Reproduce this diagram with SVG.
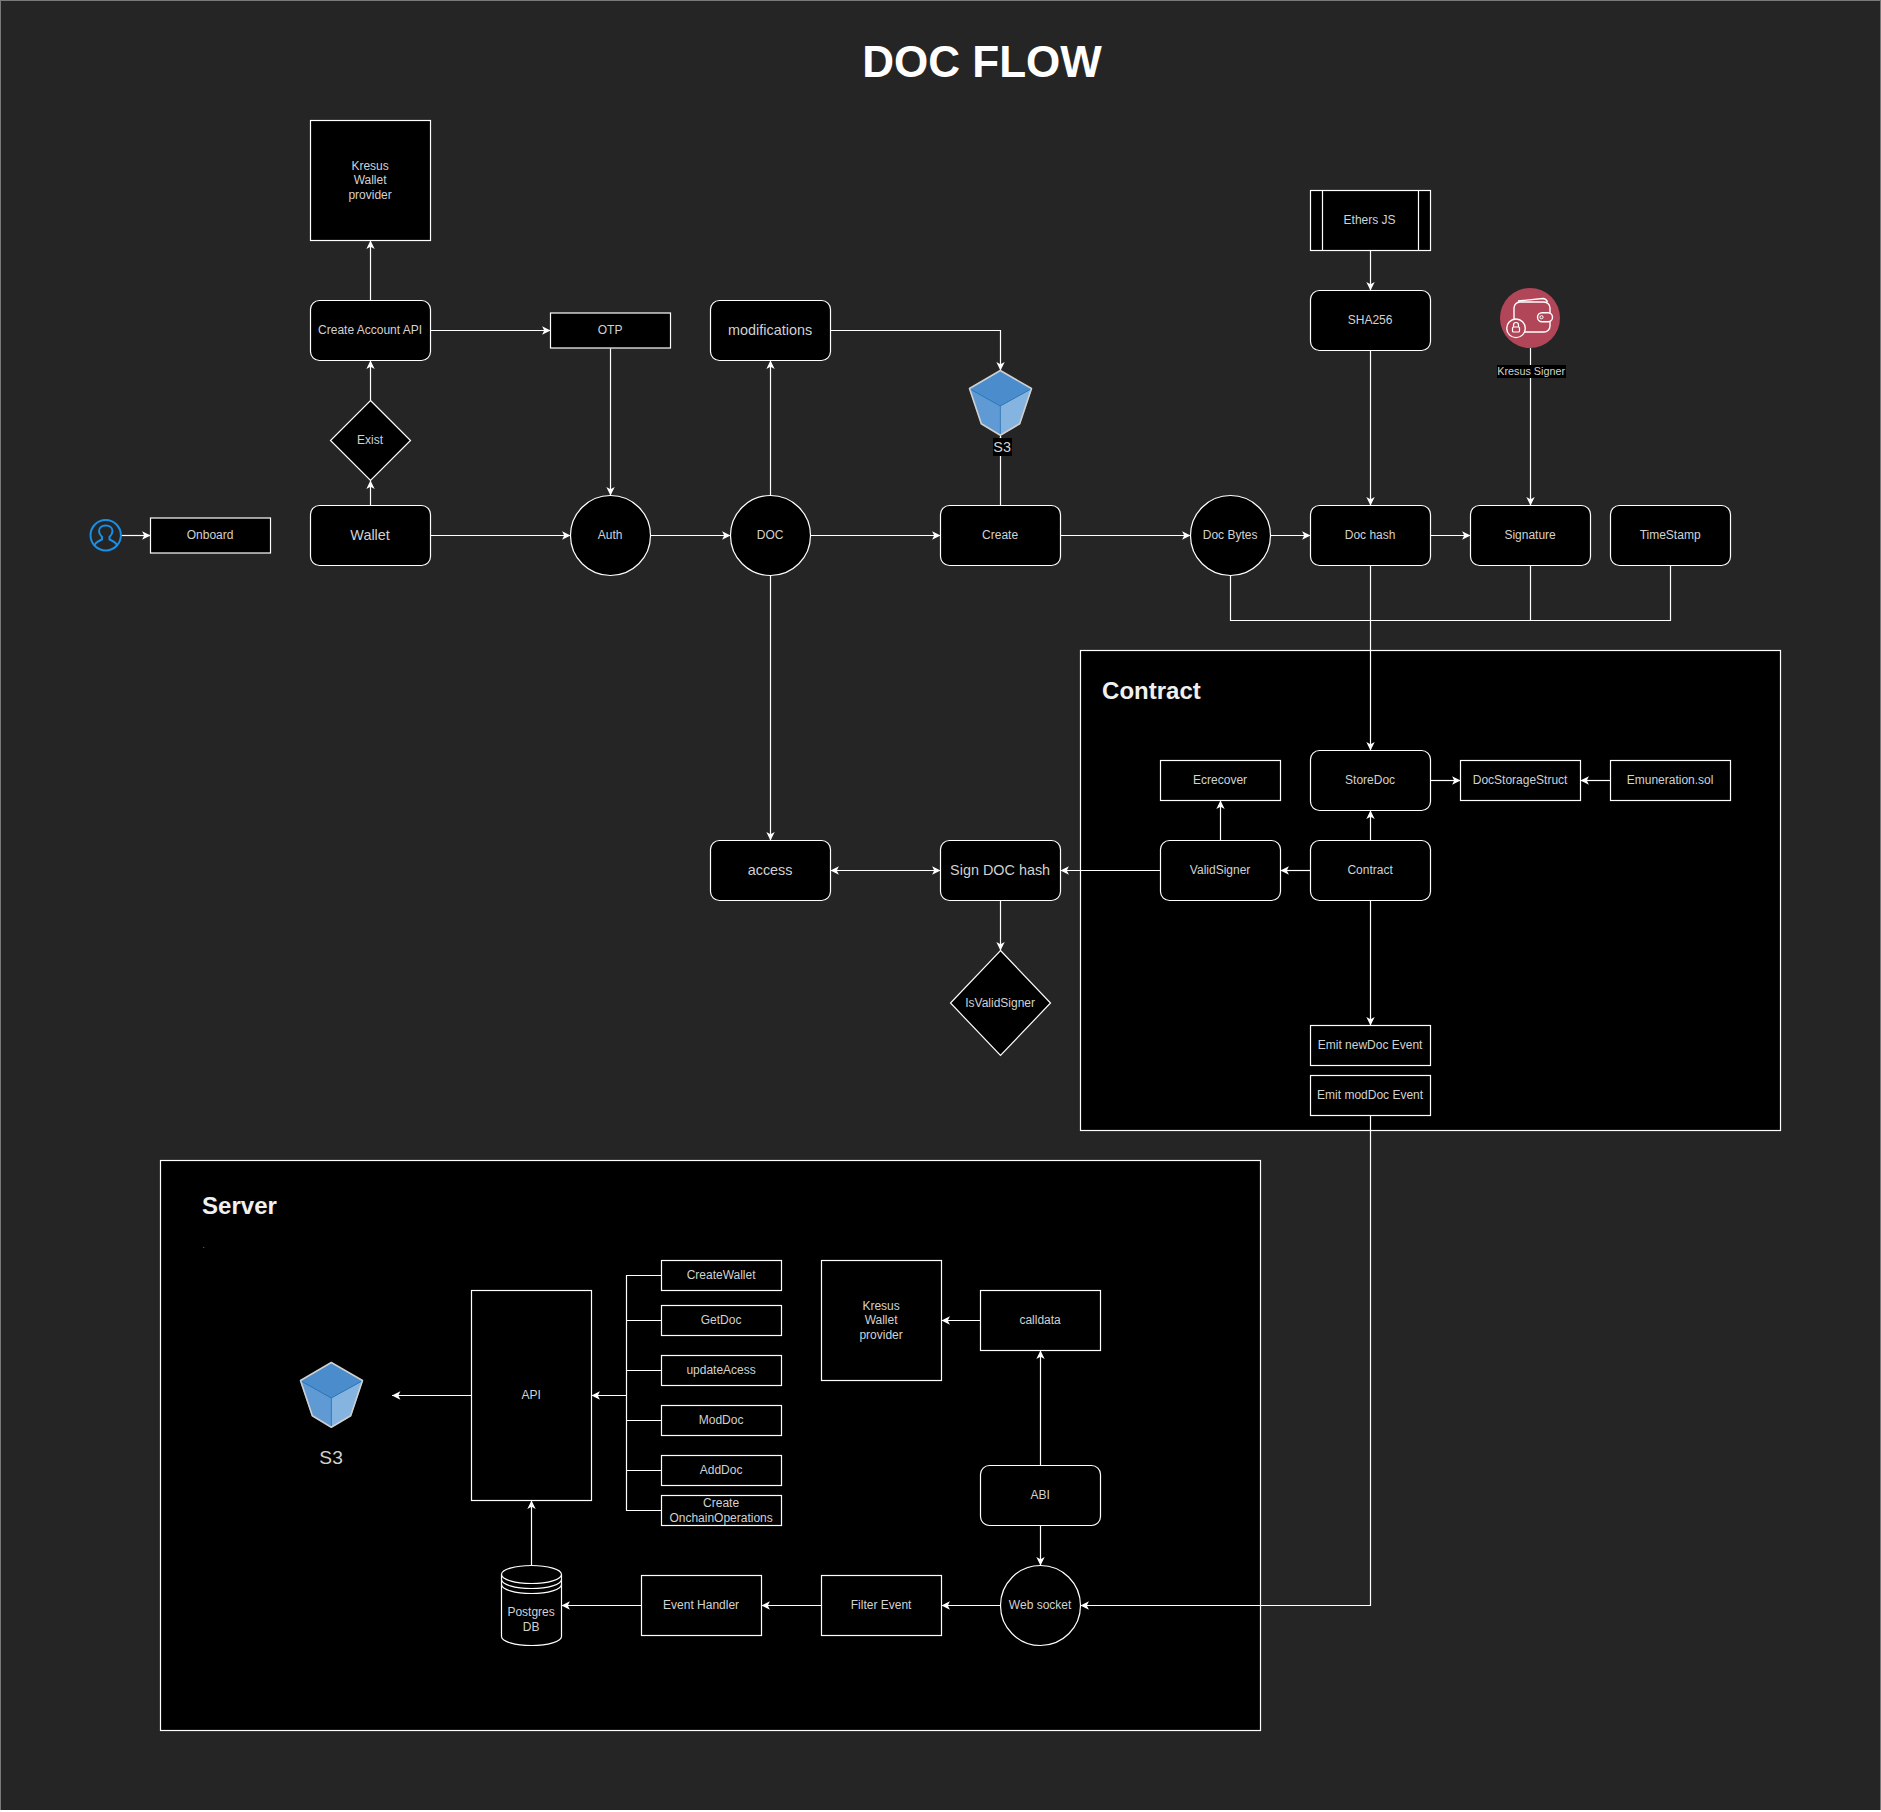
<svg xmlns="http://www.w3.org/2000/svg" xmlns:xlink="http://www.w3.org/1999/xlink" width="1881" height="1812" viewBox="0 0 1881 1812">
<style>
.n{fill:#000;stroke:#fff;stroke-width:1.2}
text{font-family:"Liberation Sans",Arial,Helvetica,sans-serif;font-size:12px;fill:#d2d2d2;text-anchor:middle;transform:translateX(-0.4px)}
.l{font-size:14.4px}
.b{font-weight:bold;font-size:24px;fill:#f0f0f0;text-anchor:start}
.c{fill:none;stroke:#fff;stroke-width:1.2}
.a{marker-end:url(#arr)}
</style>
<defs>
<marker id="arr" markerUnits="userSpaceOnUse" markerWidth="10" markerHeight="10" viewBox="0 0 10 10" refX="9" refY="5" orient="auto-start-reverse"><path d="M0.6,0.8 L9,5 L0.6,9.2 L2.7,5 Z" fill="#fff"/></marker>
<g id="cube">
<path d="M969,388.5 L1000.3,406 L1000.3,435.5 L981,424 Z" fill="#5f9ad4"/>
<path d="M1032,388.5 L1000.3,406 L1000.3,435.5 L1020,424 Z" fill="#85b4e0"/>
<path d="M969,388.5 L1000.3,370.5 L1032,388.5 L1000.3,406 Z" fill="#4a8ccc"/>
<path d="M969,388.5 L1000.3,406 L1032,388.5 M1000.3,406 V435.5" fill="none" stroke="#2a7cc0" stroke-width="0.8"/>
<path d="M1000.3,370.5 L1031.5,388.5 L1019.7,423.7 L1000.3,435.2 L981.3,423.7 L969.5,388.5 Z" fill="none" stroke="#cfcfcf" stroke-width="1.6" stroke-linejoin="round"/>
</g>
</defs>
<rect id="page" x="0.5" y="0.5" width="1880" height="1810" fill="#252525" stroke="#7a7a7a" stroke-width="1"/>
<line x1="0" y1="1810.5" x2="1881" y2="1810.5" stroke="#fff" stroke-width="1.2"/>
<text x="982.5" y="77" style="font-size:44px;font-weight:bold;fill:#fff">DOC FLOW</text>

<g id="panel-contract"><rect class="n" x="1080.5" y="650.5" width="700" height="480"/><text class="b" x="1102.5" y="699">Contract</text></g>
<g id="panel-server"><rect class="n" x="160.5" y="1160.5" width="1100" height="570"/><text class="b" x="202.5" y="1214">Server</text><text x="204" y="1247.5" style="font-size:6px;fill:#fff">.</text></g>

<g id="connectors">
<path class="c a" d="M121.5,535.5 H150.5"/>
<path class="c a" d="M370.5,505.5 V480.5"/>
<path class="c a" d="M370.5,400.5 V360.5"/>
<path class="c a" d="M370.5,300.5 V240.5"/>
<path class="c a" d="M430.5,330.5 H550.5"/>
<path class="c a" d="M610.5,348.5 V495.5"/>
<path class="c a" d="M430.5,535.5 H570.5"/>
<path class="c a" d="M650.5,535.5 H730.5"/>
<path class="c a" d="M770.5,495.5 V360.5"/>
<path class="c a" d="M770.5,575.5 V840.5"/>
<path class="c a" d="M810.5,535.5 H940.5"/>
<path class="c a" d="M830.5,330.5 H1000.5 V370.5"/>
<path class="c a" d="M1000.5,505.5 V436"/>
<path class="c a" d="M1060.5,535.5 H1190.5"/>
<path class="c a" d="M1270.5,535.5 H1310.5"/>
<path class="c a" d="M1370.5,250.5 V290.5"/>
<path class="c a" d="M1370.5,350.5 V505.5"/>
<path class="c a" d="M1430.5,535.5 H1470.5"/>
<path class="c a" d="M1530.5,348 V505.5"/>
<path class="c a" d="M1370.5,565.5 V750.5"/>
<path class="c" d="M1230.5,575.5 V620.5 H1670.5 V565.5 M1530.5,565.5 V620.5"/>
<path class="c a" d="M1370.5,840.5 V810.5"/>
<path class="c a" d="M1310.5,870.5 H1280.5"/>
<path class="c a" d="M1220.5,840.5 V800.5"/>
<path class="c a" d="M1160.5,870.5 H1060.5"/>
<path class="c a" d="M1430.5,780.5 H1460.5"/>
<path class="c a" d="M1610.5,780.5 H1580.5"/>
<path class="c a" d="M830.5,870.5 H940.5" style="marker-start:url(#arr)"/>
<path class="c a" d="M1000.5,900.5 V950.5"/>
<path class="c a" d="M1370.5,900.5 V1025.5"/>
<path class="c a" d="M1370.5,1115.5 V1605.5 H1080.5"/>
<path class="c a" d="M1000.5,1605.5 H941.5"/>
<path class="c a" d="M821.5,1605.5 H761.5"/>
<path class="c a" d="M641.5,1605.5 H561.5"/>
<path class="c a" d="M531.5,1565.5 V1500.5"/>
<path class="c a" d="M471.5,1395.5 H392"/>
<path class="c a" d="M626.5,1395.5 H591.5"/>
<path class="c" d="M661.5,1275.5 H626.5 V1510.5 H661.5 M626.5,1320.5 H661.5 M626.5,1370.5 H661.5 M626.5,1420.5 H661.5 M626.5,1470.5 H661.5"/>
<path class="c a" d="M1040.5,1465.5 V1350.5"/>
<path class="c a" d="M1040.5,1525.5 V1565.5"/>
<path class="c a" d="M980.5,1320.5 H941.5"/>
</g>

<g id="user"><circle cx="105.7" cy="535.3" r="15.2" fill="none" stroke="#1a8fe6" stroke-width="2"/><path d="M94.5,546 C95,542 99,541 102,539.5 L102,537 C100,535 99,533 99,531 C99,527.5 102,525.5 105.7,525.5 C109.5,525.5 112.5,527.5 112.5,531 C112.5,533 111.5,535 109.5,537 L109.5,539.5 C112.5,541 116.5,542 117,546" fill="none" stroke="#1a8fe6" stroke-width="2"/></g>
<g id="onboard"><rect class="n" x="150.5" y="518" width="120" height="35"/><text x="210.5" y="539">Onboard</text></g>
<g id="wallet"><rect class="n" x="310.5" y="505.5" width="120" height="60" rx="9"/><text class="l" x="370.5" y="540">Wallet</text></g>
<g id="exist"><path class="n" d="M370.5,400.5 L410.5,440.5 L370.5,480.5 L330.5,440.5 Z"/><text x="370.5" y="444">Exist</text></g>
<g id="create-account"><rect class="n" x="310.5" y="300.5" width="120" height="60" rx="9"/><text x="370.5" y="334">Create Account API</text></g>
<g id="kresus-top"><rect class="n" x="310.5" y="120.5" width="120" height="120"/><text x="370.5" y="170">Kresus</text><text x="370.5" y="184.4">Wallet</text><text x="370.5" y="198.8">provider</text></g>
<g id="otp"><rect class="n" x="550.5" y="313" width="120" height="35"/><text x="610.5" y="334">OTP</text></g>
<g id="auth"><circle class="n" cx="610.5" cy="535.5" r="40"/><text x="610.5" y="539">Auth</text></g>
<g id="doc"><circle class="n" cx="770.5" cy="535.5" r="40"/><text x="770.5" y="539">DOC</text></g>
<g id="modifications"><rect class="n" x="710.5" y="300.5" width="120" height="60" rx="9"/><text class="l" x="770.5" y="335">modifications</text></g>
<g id="s3-top"><use xlink:href="#cube" href="#cube"/><rect x="993" y="438" width="19" height="18" fill="#000"/><text class="l" x="1002.5" y="451.5">S3</text></g>
<g id="create"><rect class="n" x="940.5" y="505.5" width="120" height="60" rx="9"/><text x="1000.5" y="539">Create</text></g>
<g id="doc-bytes"><circle class="n" cx="1230.5" cy="535.5" r="40"/><text x="1230.5" y="539">Doc Bytes</text></g>
<g id="doc-hash"><rect class="n" x="1310.5" y="505.5" width="120" height="60" rx="9"/><text x="1370.5" y="539">Doc hash</text></g>
<g id="ethers"><rect class="n" x="1310.5" y="190.5" width="120" height="60"/><path class="c" d="M1322.5,190.5 V250.5 M1418.5,190.5 V250.5"/><text x="1370" y="224">Ethers JS</text></g>
<g id="sha256"><rect class="n" x="1310.5" y="290.5" width="120" height="60" rx="9"/><text x="1370.5" y="324">SHA256</text></g>
<g id="kresus-signer">
<circle cx="1530" cy="318" r="30" fill="#b24659"/>
<rect x="1514" y="302" width="36" height="30" rx="6" fill="none" stroke="#fff" stroke-width="1.4"/>
<path d="M1518,301 L1543,298.5 Q1546,298.5 1547.5,302" fill="none" stroke="#fff" stroke-width="1.4"/>
<rect x="1537.5" y="312.7" width="15" height="9" rx="4.5" fill="#b24659" stroke="#fff" stroke-width="1.4"/>
<circle cx="1541.5" cy="317.2" r="1.6" fill="none" stroke="#fff" stroke-width="1"/>
<circle cx="1516" cy="328.3" r="9.3" fill="#b24659" stroke="#fff" stroke-width="1.4"/>
<rect x="1512.5" y="327" width="7" height="5" rx="1" fill="none" stroke="#fff" stroke-width="1.2"/>
<path d="M1513.5,327 V325 A2.5,2.5 0 0 1 1518.5,325 V327" fill="none" stroke="#fff" stroke-width="1.2"/>
<rect x="1497" y="365" width="69" height="13" fill="#000"/><text x="1531.5" y="375" style="font-size:10.8px">Kresus Signer</text>
</g>
<g id="signature"><rect class="n" x="1470.5" y="505.5" width="120" height="60" rx="9"/><text x="1530.5" y="539">Signature</text></g>
<g id="timestamp"><rect class="n" x="1610.5" y="505.5" width="120" height="60" rx="9"/><text x="1670.5" y="539">TimeStamp</text></g>

<g id="ecrecover"><rect class="n" x="1160.5" y="760.5" width="120" height="40"/><text x="1220.5" y="784">Ecrecover</text></g>
<g id="storedoc"><rect class="n" x="1310.5" y="750.5" width="120" height="60" rx="9"/><text x="1370.5" y="784">StoreDoc</text></g>
<g id="docstoragestruct"><rect class="n" x="1460.5" y="760.5" width="120" height="40"/><text x="1520.5" y="784">DocStorageStruct</text></g>
<g id="emuneration"><rect class="n" x="1610.5" y="760.5" width="120" height="40"/><text x="1670.5" y="784">Emuneration.sol</text></g>
<g id="validsigner"><rect class="n" x="1160.5" y="840.5" width="120" height="60" rx="9"/><text x="1220.5" y="874">ValidSigner</text></g>
<g id="contract"><rect class="n" x="1310.5" y="840.5" width="120" height="60" rx="9"/><text x="1370.5" y="874">Contract</text></g>
<g id="emit-new"><rect class="n" x="1310.5" y="1025.5" width="120" height="40"/><text x="1370.5" y="1049">Emit newDoc Event</text></g>
<g id="emit-mod"><rect class="n" x="1310.5" y="1075.5" width="120" height="40"/><text x="1370.5" y="1099">Emit modDoc Event</text></g>
<g id="access"><rect class="n" x="710.5" y="840.5" width="120" height="60" rx="9"/><text class="l" x="770.5" y="875">access</text></g>
<g id="sign-doc-hash"><rect class="n" x="940.5" y="840.5" width="120" height="60" rx="9"/><text class="l" x="1000.5" y="875">Sign DOC hash</text></g>
<g id="isvalidsigner"><path class="n" d="M1000.5,950.5 L1050.5,1003 L1000.5,1055.5 L950.5,1003 Z"/><text x="1000.5" y="1007">IsValidSigner</text></g>

<g id="createwallet"><rect class="n" x="661.5" y="1260.5" width="120" height="30"/><text x="721.5" y="1279">CreateWallet</text></g>
<g id="getdoc"><rect class="n" x="661.5" y="1305.5" width="120" height="30"/><text x="721.5" y="1324">GetDoc</text></g>
<g id="updateacess"><rect class="n" x="661.5" y="1355.5" width="120" height="30"/><text x="721.5" y="1374">updateAcess</text></g>
<g id="moddoc"><rect class="n" x="661.5" y="1405.5" width="120" height="30"/><text x="721.5" y="1424">ModDoc</text></g>
<g id="adddoc"><rect class="n" x="661.5" y="1455.5" width="120" height="30"/><text x="721.5" y="1474">AddDoc</text></g>
<g id="onchainops"><rect class="n" x="661.5" y="1495.5" width="120" height="30"/><text x="721.5" y="1507.3">Create</text><text x="721.5" y="1522">OnchainOperations</text></g>
<g id="api"><rect class="n" x="471.5" y="1290.5" width="120" height="210"/><text x="531.5" y="1399">API</text></g>
<g id="s3-server"><use xlink:href="#cube" href="#cube" transform="translate(-669,992)"/><text x="331.5" y="1464" style="font-size:19.2px">S3</text></g>
<g id="postgres"><path class="n" d="M501.5,1574.5 A30,9 0 0 1 561.5,1574.5 V1636.5 A30,9 0 0 1 501.5,1636.5 Z"/><path class="c" d="M501.5,1574.5 A30,9 0 0 0 561.5,1574.5 M501.5,1579.5 A30,9 0 0 0 561.5,1579.5 M501.5,1584.5 A30,9 0 0 0 561.5,1584.5"/><text x="531.5" y="1616">Postgres</text><text x="531.5" y="1630.5">DB</text></g>
<g id="event-handler"><rect class="n" x="641.5" y="1575.5" width="120" height="60"/><text x="701.5" y="1609">Event Handler</text></g>
<g id="filter-event"><rect class="n" x="821.5" y="1575.5" width="120" height="60"/><text x="881.5" y="1609">Filter Event</text></g>
<g id="web-socket"><circle class="n" cx="1040.5" cy="1605.5" r="40"/><text x="1040.5" y="1609">Web socket</text></g>
<g id="abi"><rect class="n" x="980.5" y="1465.5" width="120" height="60" rx="9"/><text x="1040.5" y="1499">ABI</text></g>
<g id="calldata"><rect class="n" x="980.5" y="1290.5" width="120" height="60"/><text x="1040.5" y="1324">calldata</text></g>
<g id="kresus-server"><rect class="n" x="821.5" y="1260.5" width="120" height="120"/><text x="881.5" y="1310">Kresus</text><text x="881.5" y="1324.4">Wallet</text><text x="881.5" y="1338.8">provider</text></g>
</svg>
